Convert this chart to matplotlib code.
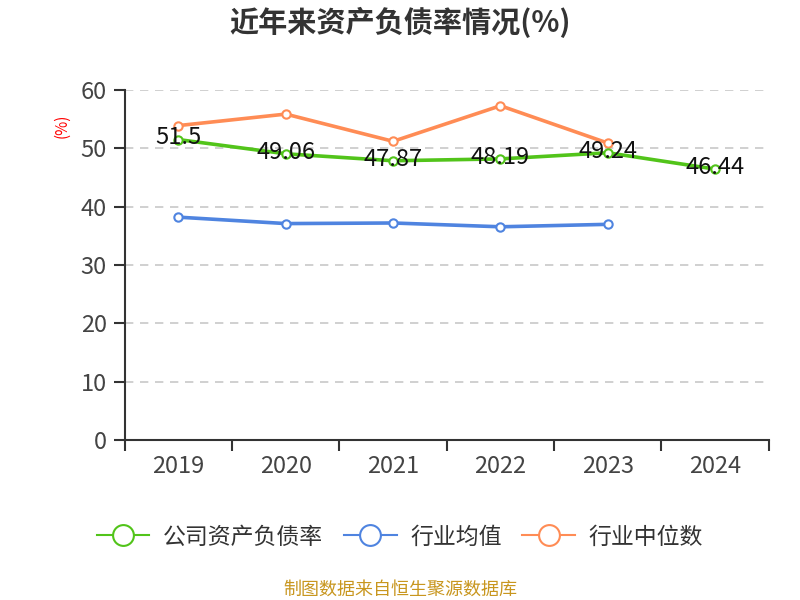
import matplotlib
matplotlib.use("Agg")
import matplotlib.pyplot as plt
from matplotlib.lines import Line2D
import numpy as np

plt.rcParams['font.family'] = ['Noto Sans CJK SC', 'DejaVu Sans']

years = ['2019', '2020', '2021', '2022', '2023', '2024']
company = [51.5, 49.06, 47.87, 48.19, 49.24, 46.44]
industry_avg = [38.2, 37.1, 37.2, 36.55, 36.97]
industry_median = [53.9, 55.87, 51.2, 57.3, 50.9]

c_green = '#52c41a'
c_blue = '#4f84e0'
c_orange = '#ff8c55'
axis_c = '#333333'

fig = plt.figure(figsize=(8, 6), dpi=100)
ax = fig.add_axes([0.156, 0.2667, 0.805, 0.5833])

x = np.arange(len(years))
mk = dict(marker='o', markersize=6, markerfacecolor='white', markeredgewidth=1.5, linewidth=2.6)
ax.plot(x[:len(industry_median)], industry_median, color=c_orange, markeredgecolor=c_orange, zorder=3, **mk)
ax.plot(x[:len(industry_avg)], industry_avg, color=c_blue, markeredgecolor=c_blue, zorder=3, **mk)
ax.plot(x, company, color=c_green, markeredgecolor=c_green, zorder=4, **mk)

for xi, v in zip(x, company):
    ax.text(xi, v + 0.3, f'{v:g}', ha='center', va='center', fontsize=17, color='#111111', zorder=5)

ax.set_xlim(-0.5, len(years) - 0.5)
ax.set_ylim(0, 60)
ax.set_yticks(range(0, 61, 10))
ax.set_xticks(x)
ax.set_xticklabels(years)
ax.set_xticks(np.arange(-0.5, len(years), 1), minor=True)
ax.tick_params(axis='x', which='major', length=0, pad=11, labelsize=17, labelcolor='#444444')
ax.tick_params(axis='x', which='minor', length=8, width=1.5, color=axis_c, direction='out')
ax.tick_params(axis='y', length=8, width=1.5, color=axis_c, labelsize=17, labelcolor='#444444', pad=5)

for s in ['top', 'right']:
    ax.spines[s].set_visible(False)
for s in ['left', 'bottom']:
    ax.spines[s].set_color(axis_c)
    ax.spines[s].set_linewidth(1.5)

ax.yaxis.grid(True, linestyle=(0, (5, 4)), color='#c8c8c8', linewidth=1.2)
ax.set_axisbelow(True)

fig.text(0.5, 0.962, '近年来资产负债率情况(%)', ha='center', va='center', fontsize=21,
         fontweight='bold', color='#333333')
fig.text(0.078, 0.79, '(%)', ha='center', va='center', fontsize=11, color='red', rotation=90)

handles = [
    Line2D([0], [0], color=c_green, marker='o', markersize=15, markerfacecolor='white', markeredgewidth=1.5, linewidth=1.5),
    Line2D([0], [0], color=c_blue, marker='o', markersize=15, markerfacecolor='white', markeredgewidth=1.5, linewidth=1.5),
    Line2D([0], [0], color=c_orange, marker='o', markersize=15, markerfacecolor='white', markeredgewidth=1.5, linewidth=1.5),
]
labels = ['公司资产负债率', '行业均值', '行业中位数']
fig.legend(handles, labels, loc='center', bbox_to_anchor=(0.5, 0.105), ncol=3, frameon=False,
           fontsize=16.5, handlelength=2.3, columnspacing=0.9, handletextpad=0.6, labelcolor='#333333')

fig.text(0.5, 0.017, '制图数据来自恒生聚源数据库', ha='center', va='center', fontsize=13, color='#c8961e')

fig.savefig('out.png', dpi=100)
